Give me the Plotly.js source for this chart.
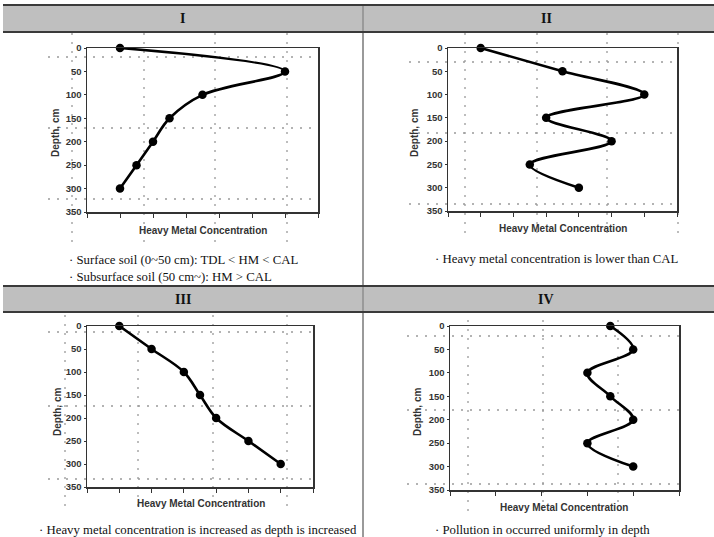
<!DOCTYPE html>
<html><head><meta charset="utf-8">
<script src="https://cdn.plot.ly/plotly-3.0.1.min.js"></script>
<style>html,body{margin:0;padding:0;background:#fff;}#chart{width:714px;height:537px;}</style>
</head><body><div id="chart"></div>
<script>
// ---- data ----
const depth = [0, 50, 100, 150, 200, 250, 300];
const concI = [1, 6, 3.5, 2.5, 2, 1.5, 1];
const concII = [1, 3.5, 6, 3, 5, 2.5, 4];
const concIII = [1, 2, 3, 3.5, 4, 5, 6];
const concIV = [3.5, 4, 3, 3.5, 4, 3, 4];
const yTicks = [0, 50, 100, 150, 200, 250, 300, 350];
const panelTitles = ['I', 'II', 'III', 'IV'];
const xTitle = 'Heavy Metal Concentration';
const yTitle = 'Depth, cm';
const captionI = ['· Surface soil (0~50 cm): TDL &lt; HM &lt; CAL', '· Subsurface soil (50 cm~): HM &gt; CAL'];
const captionII = ['· Heavy metal concentration is lower than CAL'];
const captionIII = ['· Heavy metal concentration is increased as depth is increased'];
const captionIV = ['· Pollution in occurred uniformly in depth'];

// ---- layout helpers ----
const W = 714, H = 537;
const px = x => x / W;
const py = y => 1 - y / H;
const SANS = 'Liberation Sans, Arial, sans-serif';
const SERIF = 'Liberation Serif, Times New Roman, serif';

const panels = [
  {x: concI,   xr: [0, 7], dom: [87, 318, 48, 212]},
  {x: concII,  xr: [0, 7], dom: [448, 677, 48, 211]},
  {x: concIII, xr: [0, 7], dom: [87, 313, 326, 487]},
  {x: concIV,  xr: [0, 5], dom: [450, 679, 326, 490]}
];

const traces = panels.map((p, i) => ({
  x: p.x, y: depth, type: 'scatter', mode: 'lines+markers',
  xaxis: i === 0 ? 'x' : 'x' + (i + 1), yaxis: i === 0 ? 'y' : 'y' + (i + 1),
  line: {color: '#000', width: 2.6, shape: 'spline', smoothing: 1},
  marker: {color: '#000', size: 8.5},
  cliponaxis: false, hoverinfo: 'x+y', showlegend: false
}));

const layout = {
  width: W, height: H, margin: {l: 0, r: 0, t: 0, b: 0},
  paper_bgcolor: '#fff', plot_bgcolor: 'rgba(0,0,0,0)',
  showlegend: false, shapes: [], annotations: []
};

panels.forEach((p, i) => {
  const sx = i === 0 ? '' : String(i + 1);
  const [x0, x1, y0, y1] = p.dom;
  layout['xaxis' + sx] = {
    domain: [px(x0), px(x1)], anchor: 'y' + sx, range: p.xr, dtick: 1, tick0: 0,
    showticklabels: false, ticks: 'outside', ticklen: 4, tickwidth: 1, tickcolor: '#333',
    showgrid: false, zeroline: false, showline: true, mirror: true,
    linecolor: '#333', linewidth: 1.5, fixedrange: true
  };
  layout['yaxis' + sx] = {
    domain: [py(y1), py(y0)], anchor: 'x' + sx, range: [350, 0],
    tickvals: yTicks, ticks: 'outside', ticklen: 2, tickcolor: '#333',
    tickfont: {family: SANS, size: 9.5, color: '#333', weight: 'bold'},
    showgrid: false, zeroline: false, showline: true, mirror: true,
    linecolor: '#333', linewidth: 1.5, fixedrange: true
  };
});

// table structure
const S = layout.shapes;
function rect(x0, y0, x1, y1, fill) {
  S.push({type: 'rect', xref: 'paper', yref: 'paper', x0: px(x0), x1: px(x1), y0: py(y1), y1: py(y0),
    fillcolor: fill, line: {width: 0}, layer: 'below'});
}
function line(x0, y0, x1, y1, color, width, dash) {
  S.push({type: 'line', xref: 'paper', yref: 'paper', x0: px(x0), x1: px(x1), y0: py(y0), y1: py(y1),
    line: {color: color, width: width, dash: dash || 'solid'}, layer: 'below'});
}
rect(3, 5, 714, 32, '#bfbfbf');
rect(3, 286, 714, 312, '#bfbfbf');
line(363, 5, 363, 537, '#9a9a9a', 2);
line(3, 5, 714, 5, '#3a3a3a', 2);
line(3, 32, 714, 32, '#3a3a3a', 2);
line(3, 286, 714, 286, '#3a3a3a', 2);
line(3, 312, 714, 312, '#3a3a3a', 2);

// faint dotted cell guides seen in the source
const DOT = '2px,7px';
const dotH = [
  [48, 317, [57, 128, 199]],
  [409, 679, [62, 133, 204]],
  [48, 315, [332, 406, 479]],
  [407, 682, [336, 410, 484]]
];
const dotV = [
  [33, 243, [72, 144, 215, 287]],
  [33, 240, [465, 537, 607, 678]],
  [315, 510, [65, 138, 213, 287]],
  [320, 513, [468, 543, 618]]
];
dotH.forEach(([a, b, ys]) => ys.forEach(y => line(a, y, b, y, '#9a9a9a', 1.3, DOT)));
dotV.forEach(([a, b, xs]) => xs.forEach(x => line(x, a, x, b, '#9a9a9a', 1.3, DOT)));

// text
const A = layout.annotations;
function txt(text, x, y, opts) {
  A.push(Object.assign({text: text, xref: 'paper', yref: 'paper', x: px(x), y: py(y),
    showarrow: false, xanchor: 'center', yanchor: 'middle'}, opts || {}));
}
const headerFont = {family: SERIF, size: 14, color: '#111', weight: 'bold'};
txt(panelTitles[0], 183, 18.5, {font: headerFont});
txt(panelTitles[1], 546, 18.5, {font: headerFont});
txt(panelTitles[2], 183, 299, {font: headerFont});
txt(panelTitles[3], 546, 299, {font: headerFont});

const axFont = {family: SANS, size: 10, color: '#333', weight: 'bold'};
txt(xTitle, 203, 230, {font: axFont});
txt(xTitle, 563, 228, {font: axFont});
txt(xTitle, 201, 503, {font: axFont});
txt(xTitle, 564, 507, {font: axFont});
txt(yTitle, 55, 133, {font: axFont, textangle: -90});
txt(yTitle, 414, 133, {font: axFont, textangle: -90});
txt(yTitle, 57, 412, {font: axFont, textangle: -90});
txt(yTitle, 417, 412, {font: axFont, textangle: -90});

const capFont = {family: SERIF, size: 12.8, color: '#111'};
txt(captionI[0], 67, 260, {font: capFont, xanchor: 'left'});
txt(captionI[1], 67, 277, {font: capFont, xanchor: 'left'});
txt(captionII[0], 433, 259, {font: capFont, xanchor: 'left'});
txt(captionIII[0], 37, 530, {font: capFont, xanchor: 'left'});
txt(captionIV[0], 433, 530, {font: capFont, xanchor: 'left'});

Plotly.newPlot('chart', traces, layout, {displayModeBar: false, staticPlot: true});
</script>
</body></html>
